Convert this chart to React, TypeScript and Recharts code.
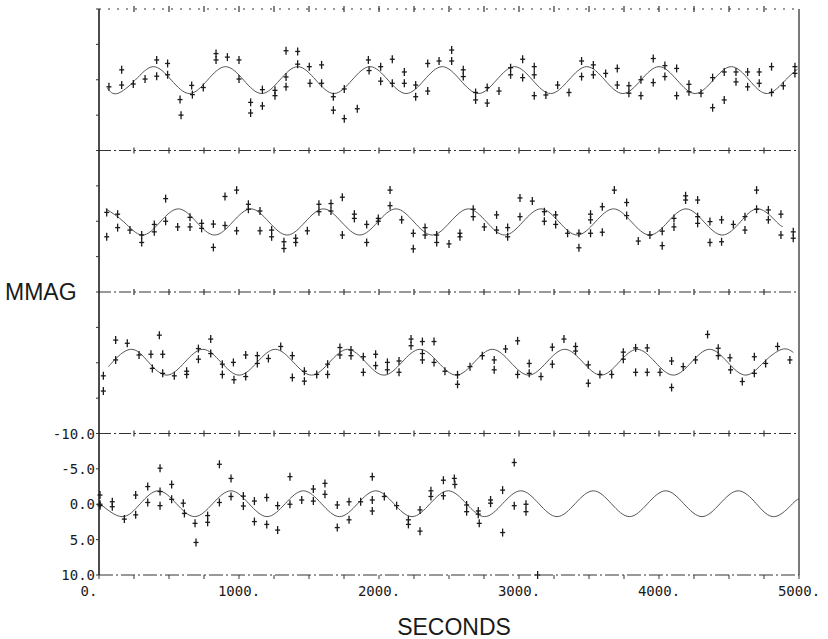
import React from 'react';
import { ComposedChart, Line, Scatter, XAxis, YAxis, ReferenceLine } from 'recharts';

// ---- axis ticks / labels ----
const X_TICKS = [0, 250, 500, 750, 1000, 1250, 1500, 1750, 2000, 2250, 2500, 2750, 3000, 3250, 3500, 3750, 4000, 4250, 4500, 4750, 5000];
const X_LABELS: Record<number, string> = { 0: '0.', 1000: '1000.', 2000: '2000.', 3000: '3000.', 4000: '4000.', 5000: '5000.' };
const Y_TICKS = [-70, -65, -60, -55, -50, -45, -40, -35, -30, -25, -20, -15, -10, -5, 0, 5, 10];
const Y_LABELS: Record<number, string> = { '-10': '-10.0', '-5': '-5.0', '0': '0.0', '5': '5.0', '10': '10.0' } as any;

// vertical offset of each light-curve panel (top to bottom), in mmag
const PANEL_OFFSETS = [-60, -40, -20, 0];
const SEPARATORS = [-70, -50, -30, -10];

// ---- fitted curves: [seconds, mmag] ----
const CURVE1: [number, number][] = [[60, 1.2], [130, 1.95], [259, 0.05], [388, -1.85], [517, 0.05], [646, 1.95], [775, 0.05], [904, -1.85], [1033, 0.05], [1162, 1.95], [1291, 0.05], [1420, -1.85], [1549, 0.05], [1678, 1.95], [1807, 0.05], [1936, -1.85], [2065, 0.05], [2194, 1.95], [2323, 0.05], [2452, -1.85], [2581, 0.05], [2710, 1.95], [2839, 0.05], [2968, -1.85], [3097, 0.05], [3226, 1.95], [3355, 0.05], [3484, -1.85], [3613, 0.05], [3742, 1.95], [3871, 0.05], [4000, -1.85], [4129, 0.05], [4258, 1.95], [4387, 0.05], [4516, -1.85], [4645, 0.05], [4774, 1.95], [4903, 0.05], [4990, -1.5]];
const CURVE2: [number, number][] = [[49, -1.75], [178, 0.1], [308, 1.95], [437, 0.1], [567, -1.75], [696, 0.1], [826, 1.95], [955, 0.1], [1085, -1.75], [1214, 0.1], [1344, 1.95], [1473, 0.1], [1603, -1.75], [1732, 0.1], [1862, 1.95], [1991, 0.1], [2121, -1.75], [2250, 0.1], [2380, 1.95], [2509, 0.1], [2639, -1.75], [2768, 0.1], [2898, 1.95], [3027, 0.1], [3157, -1.75], [3286, 0.1], [3416, 1.95], [3545, 0.1], [3675, -1.75], [3804, 0.1], [3934, 1.95], [4063, 0.1], [4193, -1.75], [4322, 0.1], [4452, 1.95], [4581, 0.1], [4711, -1.75], [4840, 0.1], [4885, 0.75]];
const CURVE3: [number, number][] = [[67, 0.6], [96, -0.08], [225, -1.9], [354, -0.08], [484, 1.75], [613, -0.08], [742, -1.9], [871, -0.08], [1001, 1.75], [1130, -0.08], [1259, -1.9], [1388, -0.08], [1518, 1.75], [1647, -0.08], [1776, -1.9], [1905, -0.08], [2035, 1.75], [2164, -0.08], [2293, -1.9], [2422, -0.08], [2552, 1.75], [2681, -0.08], [2810, -1.9], [2939, -0.08], [3069, 1.75], [3198, -0.08], [3327, -1.9], [3456, -0.08], [3586, 1.75], [3715, -0.08], [3844, -1.9], [3973, -0.08], [4103, 1.75], [4232, -0.08], [4361, -1.9], [4490, -0.08], [4620, 1.75], [4749, -0.08], [4878, -1.9], [4960, -1.45]];
const CURVE4: [number, number][] = [[0, -0.2], [165, 1.75], [295, -0.08], [424, -1.9], [553, -0.08], [683, 1.75], [812, -0.08], [942, -1.9], [1071, -0.08], [1201, 1.75], [1330, -0.08], [1460, -1.9], [1589, -0.08], [1718, 1.75], [1847, -0.08], [1977, -1.9], [2106, -0.08], [2236, 1.75], [2365, -0.08], [2495, -1.9], [2624, -0.08], [2754, 1.75], [2883, -0.08], [3013, -1.9], [3142, -0.08], [3272, 1.75], [3401, -0.08], [3531, -1.9], [3660, -0.08], [3789, 1.75], [3918, -0.08], [4048, -1.9], [4177, -0.08], [4307, 1.75], [4436, -0.08], [4566, -1.9], [4695, -0.08], [4825, 1.75], [4954, -0.08], [5000, -0.75]];

// ---- observations: [seconds, mmag] ----
const POINTS1: [number, number][] = [[71, 1.0], [162, -1.4], [162, 0.75], [245, 0.6], [329, -0.1], [412, -2.8], [412, -0.5], [490, -2.3], [490, -0.7], [579, 2.8], [586, 5.0], [662, 0.8], [667, 2.1], [745, 1.1], [836, -3.7], [836, -2.8], [917, -3.2], [1000, -2.8], [1000, -0.1], [1083, 3.2], [1083, 4.7], [1167, 1.4], [1167, 3.7], [1257, 1.5], [1257, 2.25], [1336, -4.1], [1336, 1.0], [1336, -0.4], [1419, -4.0], [1419, -2.2], [1502, -1.85], [1507, 0.5], [1590, -2.1], [1590, 0.5], [1674, 2.4], [1674, 4.3], [1752, 1.3], [1752, 5.5], [1845, 4.1], [1924, -2.8], [1929, -1.3], [2012, -1.85], [2012, 0.2], [2095, -2.9], [2095, 0.5], [2181, -1.1], [2181, 0.5], [2262, 0.75], [2262, 2.4], [2348, -2.3], [2348, 1.6], [2429, -2.65], [2519, -4.2], [2519, -2.65], [2602, -1.4], [2602, -0.45], [2690, 1.8], [2690, 2.85], [2773, 1.1], [2773, 3.3], [2857, 1.6], [2940, -1.7], [2940, -0.7], [3026, -2.9], [3026, -0.3], [3109, -1.85], [3109, -0.7], [3109, 2.25], [3192, 2.15], [3276, 0.75], [3357, 1.8], [3447, -2.65], [3447, -0.45], [3531, -2.1], [3531, -0.7], [3619, -0.9], [3702, -1.6], [3702, 0.75], [3785, 0.85], [3785, 1.9], [3871, 0.0], [3871, 2.25], [3959, -3.0], [3959, 0.4], [4042, -2.0], [4042, -0.45], [4126, -1.6], [4126, 2.25], [4214, 0.65], [4214, 1.7], [4300, 1.9], [4383, -0.3], [4383, 3.95], [4466, -1.1], [4466, 2.85], [4550, -1.1], [4550, 0.3], [4633, -1.1], [4633, 1.0], [4716, -1.1], [4716, 0.5], [4804, -1.85], [4804, 1.8], [4888, 0.85], [4971, -1.85], [4971, -0.9]];
const POINTS2: [number, number][] = [[55, -1.25], [55, 2.2], [133, -1.0], [133, 0.9], [221, 1.25], [305, 1.95], [305, 3.0], [395, 0.45], [395, 1.5], [476, -3.2], [476, 0.0], [562, 0.8], [650, -0.55], [650, 0.8], [733, 0.3], [733, 1.0], [817, 0.4], [817, 3.7], [900, -3.5], [900, 0.6], [983, -4.4], [983, 1.35], [1067, -2.4], [1067, -1.7], [1150, -1.45], [1150, 1.35], [1233, 1.25], [1233, 2.2], [1321, 2.9], [1321, 3.85], [1405, 2.4], [1405, 3.0], [1488, 1.35], [1571, -2.4], [1571, -1.35], [1657, -2.5], [1657, -1.45], [1738, -3.4], [1738, 1.95], [1824, -1.0], [1824, -0.4], [1912, 0.45], [1912, 3.0], [1995, -0.4], [1995, 0.0], [2079, -4.4], [2079, -2.2], [2162, -0.2], [2245, 1.7], [2245, 3.9], [2329, 0.9], [2329, 1.95], [2412, 1.95], [2412, 3.0], [2500, 3.2], [2578, 1.7], [2578, 2.2], [2673, -1.7], [2673, -0.65], [2752, 0.8], [2840, -0.9], [2840, 1.25], [2919, 0.9], [2919, 2.2], [3007, -3.3], [3007, -0.65], [3095, -2.85], [3181, -1.35], [3181, 0.0], [3262, -0.9], [3262, 0.45], [3347, 1.7], [3428, 1.7], [3428, 3.75], [3511, -1.0], [3511, -0.2], [3511, 1.7], [3595, -2.05], [3595, 1.55], [3681, -4.4], [3769, -2.65], [3769, -0.8], [3852, 2.8], [3935, 1.95], [4023, 1.4], [4023, 3.45], [4107, -0.4], [4107, 0.8], [4190, -3.6], [4190, -3.0], [4276, -3.0], [4276, -0.65], [4276, 0.3], [4364, 0.05], [4364, 3.0], [4447, -0.2], [4447, 2.9], [4531, 0.45], [4614, -0.65], [4614, 1.25], [4697, -4.4], [4697, -1.7], [4781, -1.6], [4781, -0.2], [4871, -1.0], [4871, 1.95], [4959, 1.5], [4959, 2.4]];
const POINTS3: [number, number][] = [[31, 1.85], [31, 4.0], [119, -3.2], [119, -0.4], [202, -2.75], [286, -1.1], [371, -1.2], [381, 0.8], [431, -3.9], [455, -1.2], [455, 1.5], [538, 1.85], [626, 1.2], [626, 1.65], [710, -2.0], [710, -0.5], [798, -3.35], [798, -1.3], [881, 0.2], [881, 1.65], [960, -0.05], [964, 2.4], [1048, -1.1], [1048, 1.95], [1131, -1.0], [1131, 0.1], [1210, -0.6], [1298, -2.3], [1381, -1.0], [1381, 2.1], [1467, 1.2], [1467, 2.6], [1555, 1.65], [1633, 0.2], [1633, 1.65], [1721, -2.15], [1721, -1.1], [1800, -1.8], [1800, -1.0], [1888, -0.85], [1888, 1.35], [1976, -1.2], [1976, 0.4], [2060, -0.05], [2060, 1.0], [2143, -0.25], [2143, 1.35], [2229, -3.35], [2229, -2.4], [2310, -3.0], [2310, -1.3], [2310, -0.4], [2393, -3.0], [2393, -0.05], [2471, 1.2], [2561, 1.7], [2561, 3.05], [2650, 0.55], [2738, -1.0], [2823, -0.4], [2823, 1.0], [2904, -1.95], [2990, -3.1], [2990, 1.65], [3073, 0.1], [3073, 1.5], [3157, 1.95], [3238, -2.2], [3238, 0.2], [3321, -3.35], [3404, -2.3], [3404, -1.65], [3495, 0.3], [3495, 2.9], [3578, 1.65], [3662, 1.65], [3745, -1.5], [3745, -0.5], [3833, -2.1], [3833, 1.35], [3916, -2.1], [3916, 1.35], [4007, 1.35], [4090, -0.25], [4090, 3.5], [4173, 0.55], [4261, -0.4], [4347, -4.0], [4423, -2.05], [4423, -1.0], [4507, -0.7], [4511, 1.0], [4595, 2.65], [4681, -0.85], [4681, 1.5], [4762, 0.1], [4847, -2.3], [4935, -0.4]];
const POINTS4: [number, number][] = [[7, -1.3], [7, 0.0], [7, 0.2], [95, -0.35], [95, 0.35], [181, 2.1], [262, -1.3], [262, 1.5], [348, -2.5], [348, -0.25], [436, -5.1], [436, -1.8], [436, 0.2], [519, -2.8], [519, -0.7], [602, -0.15], [610, 1.3], [686, 2.7], [693, 5.4], [776, 1.6], [776, 2.55], [860, -5.65], [860, -0.25], [943, -3.65], [943, -1.1], [1031, -1.15], [1031, 0.25], [1110, -0.45], [1110, 2.45], [1198, -0.95], [1198, 2.85], [1276, 3.65], [1276, 0.2], [1364, -3.9], [1364, 0.0], [1448, -0.6], [1531, -2.15], [1531, -0.45], [1614, -2.95], [1614, -1.4], [1702, 0.1], [1702, 3.3], [1786, -0.35], [1786, 2.2], [1869, -0.35], [1952, -3.9], [1952, -0.6], [1952, 0.95], [2038, -1.1], [2126, 0.2], [2210, 2.2], [2210, 2.85], [2293, 3.8], [2293, 0.8], [2371, -1.9], [2371, -1.1], [2460, -3.4], [2460, -1.2], [2538, -3.65], [2542, -2.8], [2626, 0.1], [2626, 1.05], [2709, 0.95], [2709, 1.4], [2716, 2.7], [2797, -0.6], [2797, -0.15], [2883, -2.0], [2883, 4.0], [2966, -5.9], [2966, 0.2], [3050, 0.0], [3050, 1.05], [3133, 10.0]];

const CURVES = [CURVE1, CURVE2, CURVE3, CURVE4];
const POINTS = [POINTS1, POINTS2, POINTS3, POINTS4];

const toRows = (pairs: [number, number][], off: number) => pairs.map(([t, m]) => ({ t, v: m + off }));

const curveRows = CURVES.map((c, i) => toRows(c, PANEL_OFFSETS[i]));
const pointRows = POINTS.map((p, i) => toRows(p, PANEL_OFFSETS[i]));
const sepTickRows = SEPARATORS.flatMap((s) => X_TICKS.filter((t) => t > 0 && t < 5000).map((t) => ({ t, v: s })));

const INK = '#1a1a1a';
const MONO = '"DejaVu Sans Mono", "Liberation Mono", monospace';
const SANS = '"Liberation Sans", Arial, sans-serif';

const Plus = (props: any) => {
  const { cx, cy } = props;
  if (cx == null || cy == null) return <g />;
  return (
    <g stroke={INK} strokeWidth={1.3}>
      <line x1={cx} x2={cx} y1={cy - 4} y2={cy + 4} />
      <line x1={cx - 2.5} x2={cx + 2.5} y1={cy} y2={cy} />
    </g>
  );
};

const SepTick = (props: any) => {
  const { cx, cy } = props;
  if (cx == null || cy == null) return <g />;
  return <line x1={cx} x2={cx} y1={cy - 3} y2={cy + 3} stroke="#333" strokeWidth={1.2} />;
};

const XTick = (props: any) => {
  const { x, y, payload } = props;
  const label = X_LABELS[payload.value];
  if (!label) return <g />;
  const shift = payload.value === 0 ? -10 : 0;
  return (
    <text x={x + shift} y={y} dy={13} textAnchor="middle" fontFamily={MONO} fontSize={14} fill={INK}>
      {label}
    </text>
  );
};

const YTick = (props: any) => {
  const { x, y, payload } = props;
  const label = Y_LABELS[payload.value];
  if (!label) return <g />;
  return (
    <text x={x} y={y} dy={5} textAnchor="end" fontFamily={MONO} fontSize={14} fill={INK}>
      {label}
    </text>
  );
};

export default function App() {
  return (
    <div style={{ position: 'absolute', left: 0, top: 0, background: '#fff' }}>
      <ComposedChart width={828} height={639} margin={{ top: 9, right: 0, bottom: 4, left: 0 }}>
        <XAxis
          type="number"
          dataKey="t"
          domain={[0, 5000]}
          ticks={X_TICKS}
          interval={0}
          height={60}
          tickSize={4}
          tickMargin={4}
          tick={<XTick />}
          tickLine={{ stroke: '#333' }}
          axisLine={{ stroke: '#333', strokeDasharray: '14 3 2 3' }}
          label={{
            content: (p: any) => {
              const vb = p.viewBox || { x: 99, y: 575, width: 700, height: 60 };
              return (
                <text x={vb.x + vb.width / 2 + 5} y={vb.y + vb.height} textAnchor="middle" fontFamily={SANS} fontSize={23} fill={INK}>
                  SECONDS
                </text>
              );
            },
          }}
        />
        <YAxis
          yAxisId="L"
          type="number"
          dataKey="v"
          domain={[-70, 10]}
          reversed
          ticks={Y_TICKS}
          interval={0}
          width={99}
          tickSize={3}
          tickMargin={1}
          tick={<YTick />}
          tickLine={{ stroke: '#333' }}
          axisLine={{ stroke: '#111', strokeWidth: 1.5 }}
          label={{
            content: (p: any) => {
              const vb = p.viewBox || { x: 0, y: 9, width: 99, height: 566 };
              return (
                <text x={vb.x + 5} y={vb.y + vb.height / 2 + 8} textAnchor="start" fontFamily={SANS} fontSize={23} fill={INK}>
                  MMAG
                </text>
              );
            },
          }}
        />
        <YAxis
          yAxisId="R"
          orientation="right"
          type="number"
          domain={[-70, 10]}
          reversed
          ticks={Y_TICKS}
          interval={0}
          width={29}
          tickSize={3}
          tick={false}
          tickLine={{ stroke: '#333' }}
          axisLine={{ stroke: '#222', strokeWidth: 1.2 }}
        />
        {SEPARATORS.map((s, i) => (
          <ReferenceLine
            key={s}
            yAxisId="L"
            y={s}
            stroke="#333"
            strokeWidth={1}
            strokeDasharray={i === 0 ? '2 7' : '12 3 2 3'}
          />
        ))}
        <Scatter yAxisId="L" data={sepTickRows} dataKey="v" shape={<SepTick />} isAnimationActive={false} />
        {curveRows.map((rows, i) => (
          <Line
            key={'c' + i}
            yAxisId="L"
            data={rows}
            dataKey="v"
            type="natural"
            stroke="#555"
            strokeWidth={1}
            dot={false}
            activeDot={false}
            isAnimationActive={false}
          />
        ))}
        {pointRows.map((rows, i) => (
          <Scatter key={'p' + i} yAxisId="L" data={rows} dataKey="v" shape={<Plus />} isAnimationActive={false} />
        ))}
      </ComposedChart>
    </div>
  );
}
